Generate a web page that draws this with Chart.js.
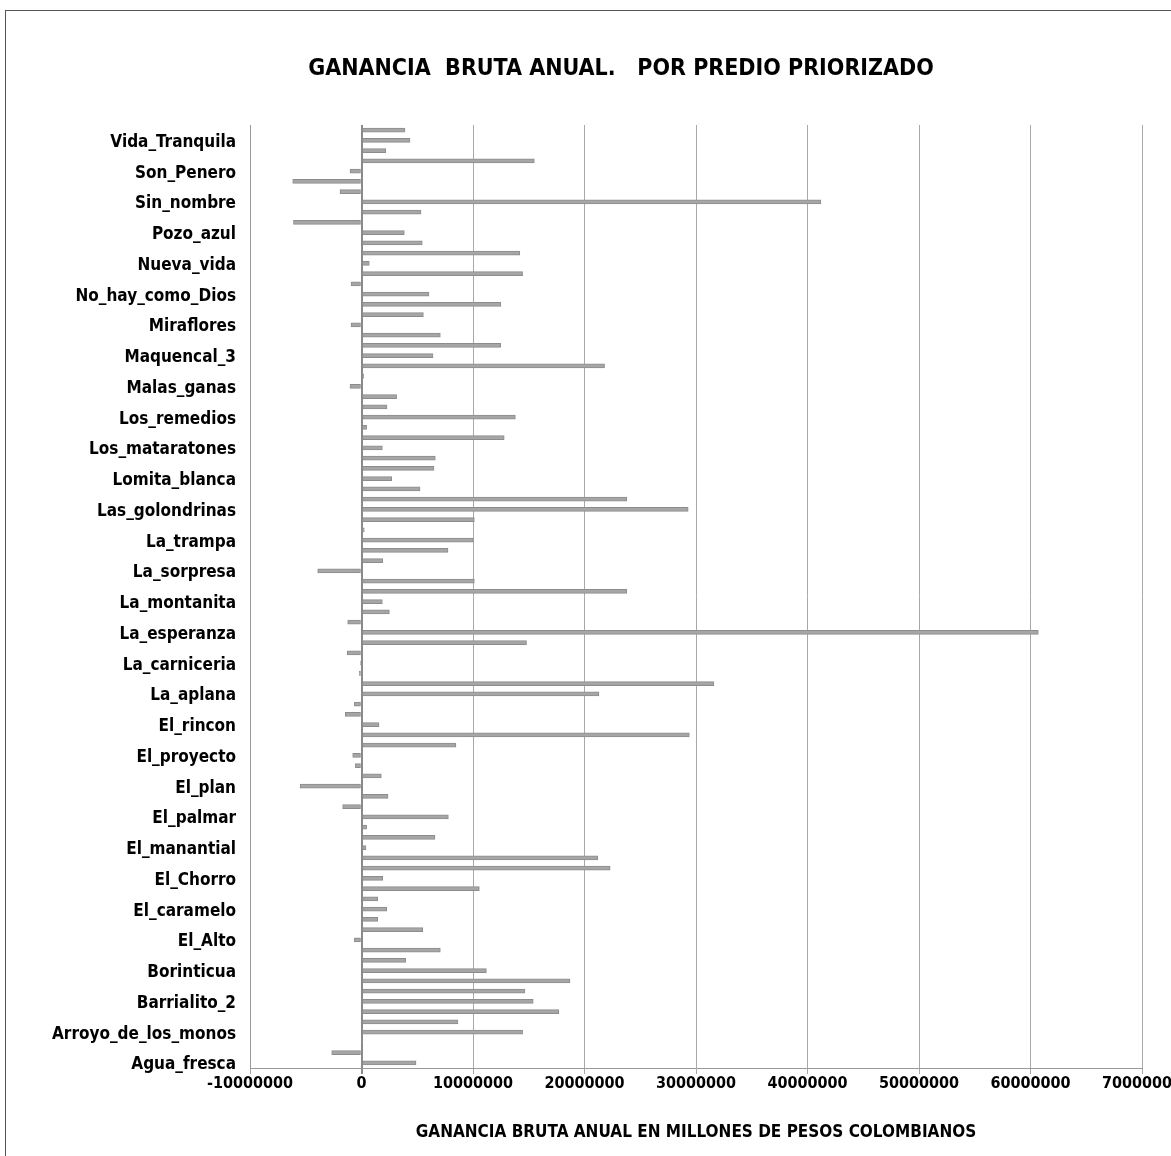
<html>
<head>
  <script src="https://cdn.jsdelivr.net/npm/chart.js@4.4.0/dist/chart.umd.min.js"></script>
</head>

<body style="padding: 0; margin: 0; background: #fff; overflow: hidden;">

<div style="position: absolute; left: 5px; top: 10px; width: 1240px; height: 1160px; border: 1px solid #555;">
  <canvas id="chart" width="1230" height="1145"></canvas>
</div>

<script>
  // predios shown on the axis (every 3rd category, top to bottom)
  const predios = [
    'Vida_Tranquila', 'Son_Penero', 'Sin_nombre', 'Pozo_azul', 'Nueva_vida', 'No_hay_como_Dios',
    'Miraflores', 'Maquencal_3', 'Malas_ganas', 'Los_remedios', 'Los_mataratones', 'Lomita_blanca',
    'Las_golondrinas', 'La_trampa', 'La_sorpresa', 'La_montanita', 'La_esperanza', 'La_carniceria',
    'La_aplana', 'El_rincon', 'El_proyecto', 'El_plan', 'El_palmar', 'El_manantial',
    'El_Chorro', 'El_caramelo', 'El_Alto', 'Borinticua', 'Barrialito_2', 'Arroyo_de_los_monos',
    'Agua_fresca',
  ]

  // ganancia bruta anual per predio, top to bottom
  const ganancia = [
    3900000, 4350000, 2170000, 15500000, -1030000, -6170000, -1930000, 41200000,
    5340000, -6100000, 3840000, 5450000, 14200000, 700000, 14450000, -940000,
    6050000, 12500000, 5550000, -940000, 7070000, 12480000, 6410000, 21800000,
    200000, -1030000, 3150000, 2290000, 13800000, 460000, 12800000, 1870000,
    6620000, 6500000, 2710000, 5250000, 23800000, 29300000, 10120000, 250000,
    10030000, 7760000, 1900000, -3930000, 10120000, 23800000, 1870000, 2500000,
    -1240000, 60700000, 14800000, -1270000, -100000, -200000, 31600000, 21300000,
    -640000, -1450000, 1570000, 29400000, 8470000, -790000, -550000, 1780000,
    -5510000, 2380000, -1690000, 7790000, 460000, 6590000, 400000, 21200000,
    22300000, 1900000, 10570000, 1450000, 2260000, 1450000, 5490000, -640000,
    7070000, 3960000, 11200000, 18700000, 14660000, 15400000, 17700000, 8650000,
    14450000, 100000, -2670000, 4890000,
  ]

  const xTicks = [-10000000, 0, 10000000, 20000000, 30000000, 40000000, 50000000, 60000000, 70000000]

  const labels = ganancia.map((v, i) => i % 3 === 1 ? predios[(i - 1) / 3] : '')
  const FONT = '"Liberation Sans Narrow", "Arial Narrow", "DejaVu Sans Condensed", sans-serif'

  new Chart(document.getElementById('chart').getContext('2d'), {
    type: 'bar',
    data: {
      labels: labels,
      datasets: [{
        data: ganancia,
        backgroundColor: '#a6a6a6',
        borderColor: '#8c8c8c',
        borderWidth: 1,
        borderSkipped: false,
        barThickness: 4,
      }]
    },
    options: {
      indexAxis: 'y',
      responsive: false,
      animation: false,
      layout: {padding: 0},
      plugins: {
        legend: {display: false},
        tooltip: {enabled: false},
        title: {
          display: true,
          text: 'GANANCIA  BRUTA ANUAL.   POR PREDIO PRIORIZADO',
          color: '#000',
          font: {family: FONT, size: 23, weight: 'bold'},
          padding: {top: 44, bottom: 42.4},
        },
      },
      scales: {
        x: {
          type: 'linear',
          min: xTicks[0],
          max: xTicks[xTicks.length - 1],
          afterBuildTicks: scale => { scale.ticks = xTicks.map(v => ({value: v})) },
          ticks: {
            color: '#000',
            font: {family: FONT, size: 16, weight: 'bold'},
            padding: 0,
            maxRotation: 0,
            callback: v => String(v),
          },
          grid: {
            color: ctx => ctx.tick && ctx.tick.value === 0 ? '#8a8a8a' : '#a8a8a8',
            lineWidth: ctx => ctx.tick && ctx.tick.value === 0 ? 2 : 1,
            tickLength: 6,
          },
          border: {color: '#999'},
          title: {
            display: true,
            text: 'GANANCIA BRUTA ANUAL EN MILLONES DE PESOS COLOMBIANOS',
            color: '#000',
            font: {family: FONT, size: 17, weight: 'bold'},
            padding: {top: 0, bottom: 13},
          },
          afterFit: scale => { scale.height = 88 },
        },
        y: {
          type: 'category',
          grid: {display: false, drawTicks: false},
          border: {display: true, color: '#999'},
          ticks: {
            autoSkip: false,
            padding: 14,
            labelOffset: 2,
            color: '#000',
            font: {family: FONT, size: 17, weight: 'bold'},
          },
          afterFit: scale => { scale.width = 244 },
        },
        // empty right-hand axis keeps the plot narrower than the (centred) title box
        yRight: {
          type: 'category',
          position: 'right',
          grid: {display: false, drawTicks: false},
          border: {display: false},
          ticks: {display: false},
          afterFit: scale => { scale.width = 94 },
        },
      },
    },
  })
</script>
</body>
</html>
